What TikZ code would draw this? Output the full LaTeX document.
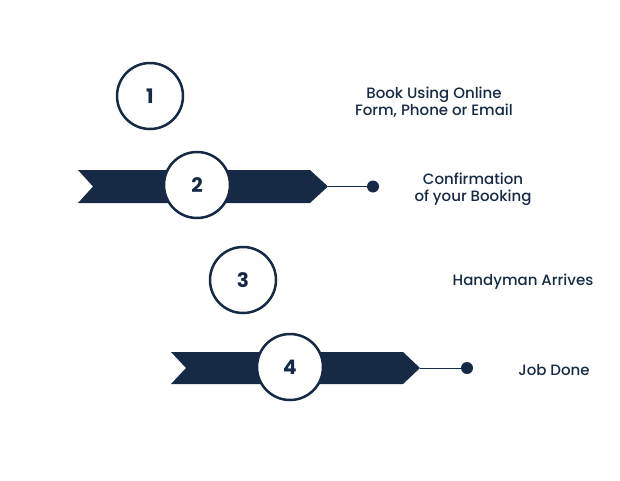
\documentclass[tikz,border=0pt]{standalone}
\usepackage{fontspec}
\setmainfont{Poppins}[UprightFont=* Medium, BoldFont=* Bold]
\usetikzlibrary{positioning}
\definecolor{navy}{RGB}{22,41,69}
\begin{document}
\begin{tikzpicture}[x=1pt,y=-1pt,font=\fontsize{15}{17}\selectfont,
    stepcircle/.style={draw=navy, line width=2.5pt, fill=white, circle, minimum size=66pt, inner sep=0pt, text=navy, font=\fontsize{20}{20}\selectfont\bfseries},
    steptext/.style={text=navy, align=center},
    ribbon/.style={fill=navy},
    enddot/.style={circle, fill=navy, minimum size=12pt, inner sep=0pt}]
    \useasboundingbox (0,0) rectangle (620,480);
    % ribbons
    \fill[ribbon] (78,170) -- (310,170) -- (328,186.5) coordinate (tipa) -- (310,203) -- (78,203) -- (93,186.5) -- cycle;
    \fill[ribbon] (171,352) -- (403,352) -- (420,368) coordinate (tipb) -- (403,384) -- (171,384) -- (186,368) -- cycle;
    \node[enddot](dota) at (373,186.5) {};
    \node[enddot](dotb) at (467,368) {};
    \draw[navy, line width=0.8pt] (tipa) -- (dota);
    \draw[navy, line width=0.8pt] (tipb) -- (dotb);
    % circles
    \node[stepcircle](one) at (150,96) {1};
    \node[stepcircle](two) at (197,185) {2};
    \node[stepcircle](three) at (243,280) {3};
    \node[stepcircle](four) at (290,367) {4};
    % texts
    \node[steptext](booka) at (434,102.5) {Book Using Online\\Form, Phone or Email};
    \node[steptext](bookb) at (473,189.5) {Confirmation\\of your Booking};
    \node[steptext](arrive) at (523,282) {Handyman Arrives};
    \node[steptext](done) at (554,370) {Job Done};
\end{tikzpicture}
\end{document}
